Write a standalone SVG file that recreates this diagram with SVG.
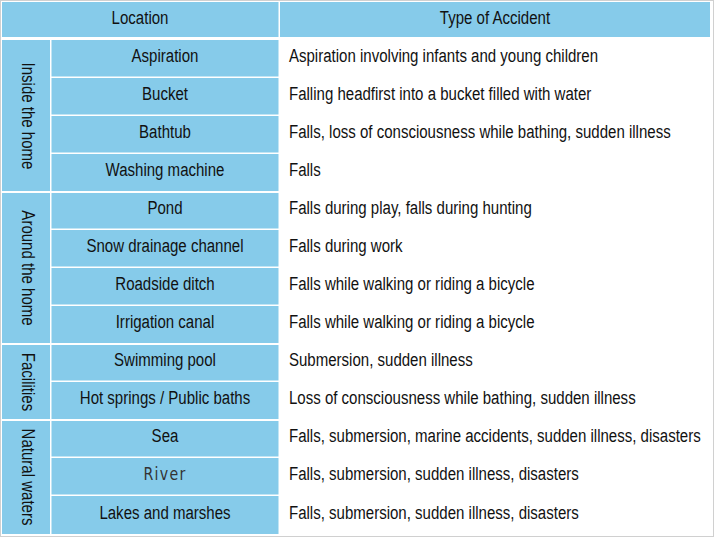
<svg xmlns="http://www.w3.org/2000/svg" width="714" height="537" viewBox="0 0 714 537">
<style>
.cell{fill:#86CBEA}
.t{font-family:"Liberation Sans",Arial,sans-serif;font-size:18px;fill:#111}
.c{text-anchor:middle}
</style>
<rect x="0.5" y="0.5" width="713" height="536" fill="#fff" stroke="#d0d0d0"/>
<g id="header">
<rect class="cell" x="2" y="2" width="276.5" height="35"/>
<rect class="cell" x="280" y="2" width="430" height="35"/>
<g transform="scale(0.835 1)">
<text class="t c" x="167.7" y="24">Location</text>
<text class="t c" x="592.8" y="24">Type of Accident</text>
</g>
</g>
<g id="group-inside">
<rect class="cell" x="2" y="40" width="48" height="151"/>
<text class="t c" transform="translate(22,116) rotate(90) scale(0.835 1)">Inside the home</text>
</g>
<g id="group-around">
<rect class="cell" x="2" y="193" width="48" height="150"/>
<text class="t c" transform="translate(22,268) rotate(90) scale(0.835 1)">Around the home</text>
</g>
<g id="group-facilities">
<rect class="cell" x="2" y="345" width="48" height="74"/>
<text class="t c" transform="translate(22,382) rotate(90) scale(0.835 1)">Facilities</text>
</g>
<g id="group-natural">
<rect class="cell" x="2" y="421" width="48" height="113"/>
<text class="t c" transform="translate(22,477) rotate(90) scale(0.835 1)">Natural waters</text>
</g>
<g id="rows">
<rect class="cell" x="51.5" y="40" width="227" height="36.5"/>
<rect class="cell" x="51.5" y="78" width="227" height="36.5"/>
<rect class="cell" x="51.5" y="116" width="227" height="36.5"/>
<rect class="cell" x="51.5" y="154" width="227" height="37"/>
<rect class="cell" x="51.5" y="193" width="227" height="35.5"/>
<rect class="cell" x="51.5" y="230" width="227" height="36.5"/>
<rect class="cell" x="51.5" y="268" width="227" height="36.5"/>
<rect class="cell" x="51.5" y="306" width="227" height="37"/>
<rect class="cell" x="51.5" y="345" width="227" height="35.5"/>
<rect class="cell" x="51.5" y="382" width="227" height="37"/>
<rect class="cell" x="51.5" y="421" width="227" height="35.5"/>
<rect class="cell" x="51.5" y="458" width="227" height="36.5"/>
<rect class="cell" x="51.5" y="496" width="227" height="38"/>
<g transform="scale(0.835 1)">
<text class="t c" x="197.6" y="62">Aspiration</text>
<text class="t c" x="197.6" y="100">Bucket</text>
<text class="t c" x="197.6" y="138">Bathtub</text>
<text class="t c" x="197.6" y="176">Washing machine</text>
<text class="t c" x="197.6" y="214">Pond</text>
<text class="t c" x="197.6" y="252">Snow drainage channel</text>
<text class="t c" x="197.6" y="290">Roadside ditch</text>
<text class="t c" x="197.6" y="328">Irrigation canal</text>
<text class="t c" x="197.6" y="366">Swimming pool</text>
<text class="t c" x="197.6" y="404">Hot springs / Public baths</text>
<text class="t c" x="197.6" y="442">Sea</text>
<text class="c" x="197.6" y="480" style="font-family:'DejaVu Sans',sans-serif;font-size:17px;letter-spacing:1.5px;fill:#333">River</text>
<text class="t c" x="197.6" y="519">Lakes and marshes</text>
<text class="t" x="346.1" y="62">Aspiration involving infants and young children</text>
<text class="t" x="346.1" y="100">Falling headfirst into a bucket filled with water</text>
<text class="t" x="346.1" y="138">Falls, loss of consciousness while bathing, sudden illness</text>
<text class="t" x="346.1" y="176">Falls</text>
<text class="t" x="346.1" y="214">Falls during play, falls during hunting</text>
<text class="t" x="346.1" y="252">Falls during work</text>
<text class="t" x="346.1" y="290">Falls while walking or riding a bicycle</text>
<text class="t" x="346.1" y="328">Falls while walking or riding a bicycle</text>
<text class="t" x="346.1" y="366">Submersion, sudden illness</text>
<text class="t" x="346.1" y="404">Loss of consciousness while bathing, sudden illness</text>
<text class="t" x="346.1" y="442">Falls, submersion, marine accidents, sudden illness, disasters</text>
<text class="t" x="346.1" y="480">Falls, submersion, sudden illness, disasters</text>
<text class="t" x="346.1" y="519">Falls, submersion, sudden illness, disasters</text>
</g>
</g>
</svg>
